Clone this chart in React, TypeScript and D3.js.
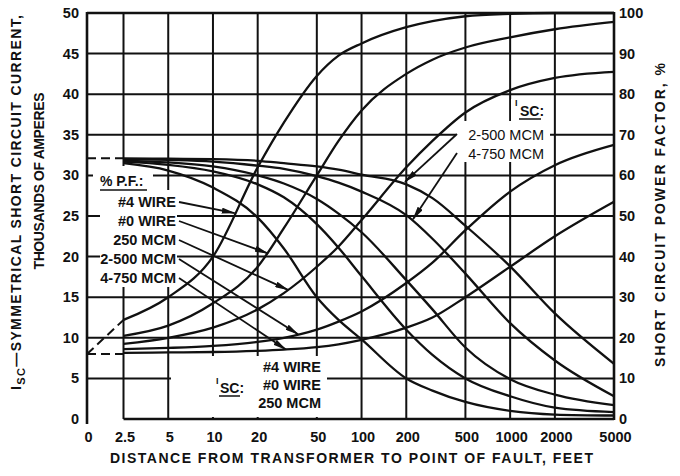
import React, { useEffect, useRef } from 'react';
import * as d3 from 'd3';

const WIDTH = 680;
const HEIGHT = 476;
const INK = '#111';
const FONT = '"Liberation Sans", Arial, Helvetica, sans-serif';

const DISTANCES = [2.5, 5, 10, 20, 30, 50, 70, 100, 200, 300, 500, 1000, 2000, 5000];

// symmetrical short circuit current, thousands of amperes
const ISC_4_WIRE = [31.5, 30.6, 28.5, 24.8, 21.0, 15.0, 12.2, 9.8, 5.0, 3.5, 2.1, 1.0, 0.55, 0.43];
const ISC_0_WIRE = [31.7, 31.3, 30.5, 28.9, 27.3, 24.0, 21.1, 17.6, 11.0, 7.9, 5.0, 2.8, 1.4, 0.85];
const ISC_250_MCM = [31.8, 31.6, 31.1, 30.0, 29.0, 27.1, 25.3, 23.0, 17.1, 13.5, 8.8, 4.9, 3.0, 1.7];
const ISC_2_500_MCM = [32.0, 31.9, 31.7, 31.2, 30.8, 29.9, 29.1, 28.0, 25.1, 22.2, 17.9, 11.8, 7.2, 2.8];
const ISC_4_750_MCM = [32.1, 32.05, 32.0, 31.8, 31.5, 31.1, 30.7, 30.1, 28.9, 27.2, 23.8, 18.8, 13.0, 6.8];

// short circuit power factor, %
const PF_4_WIRE = [24.4, 30, 40, 62, 73, 84.5, 89.5, 92.5, 96.5, 98, 99.2, 99.8, 100, 100];
const PF_0_WIRE = [20.5, 23, 28.5, 37.5, 47, 60, 68.5, 76, 85, 88.5, 91.5, 94, 96, 97.8];
const PF_250_MCM = [18.5, 20, 22.5, 27, 31, 37.5, 42.5, 49, 62, 68.5, 75.5, 81, 84, 85.5];
const PF_2_500_MCM = [17.2, 17.5, 18, 19, 20, 22, 24, 26.5, 33.5, 38.5, 46.5, 56, 62.5, 67.5];
const PF_4_750_MCM = [16.3, 16.4, 16.5, 16.8, 17.1, 17.7, 18.4, 19.5, 22.5, 25, 30, 37.5, 45, 53.5];

// values at the transformer terminals (distance 0), drawn dashed
const ISC_AT_ZERO = 32.1;
const PF_AT_ZERO = 16;

const X_TICKS = [0, 2.5, 5, 10, 20, 50, 100, 200, 500, 1000, 2000, 5000];
const X_TICK_LABELS = ['0', '2.5', '5', '10', '20', '50', '100', '200', '500', '1000', '2000', '5000'];
const ISC_TICKS = [0, 5, 10, 15, 20, 25, 30, 35, 40, 45, 50];
const PF_TICKS = [0, 10, 20, 30, 40, 50, 60, 70, 80, 90, 100];

const PF_LABELS = ['#4 WIRE', '#0 WIRE', '250 MCM', '2-500 MCM', '4-750 MCM'];
// where each "% P.F." arrow touches its curve (feet, %)
const PF_ARROW_FEET = [14, 23.4, 32, 37.4, 31];
const PF_ARROW_PF = [50.7, 40.8, 31.8, 20.9, 17.1];

const ISC_RIGHT_LABELS = ['2-500 MCM', '4-750 MCM'];
const ISC_ARROW_FEET = [196, 222];
const ISC_ARROW_ISC = [29.2, 24.6];

const ISC_BOTTOM_LABELS = ['#4 WIRE', '#0 WIRE', '250 MCM'];

// the "0" distance is put on the log axis at this many feet
const ZERO_FEET_POS = 1.42;

export default function App() {
  const svgRef = useRef<SVGSVGElement>(null);

  useEffect(() => {
    const svg = d3.select(svgRef.current);
    svg.selectAll('*').remove();

    const x = d3.scaleLog().domain([ZERO_FEET_POS, 5000]).range([87, 614]);
    const xd = (d: number) => x(d === 0 ? ZERO_FEET_POS : d);
    const yI = d3.scaleLinear().domain([0, 50]).range([419, 13]);
    const yP = d3.scaleLinear().domain([0, 100]).range([419, 13]);

    const defs = svg.append('defs');
    defs.append('marker')
      .attr('id', 'arrowhead')
      .attr('viewBox', '0 0 14 6')
      .attr('refX', 13)
      .attr('refY', 3)
      .attr('markerWidth', 14)
      .attr('markerHeight', 6)
      .attr('markerUnits', 'userSpaceOnUse')
      .attr('orient', 'auto')
      .append('path')
      .attr('d', 'M0,0 L14,3 L0,6 Z')
      .attr('fill', INK);

    const g = svg.append('g');

    // grid
    const grid = g.append('g').attr('stroke', INK).attr('stroke-width', 2);
    grid.selectAll('.hgrid')
      .data(ISC_TICKS.filter(v => v > 0 && v < 50))
      .enter()
      .append('line')
      .attr('x1', xd(0)).attr('x2', x(5000))
      .attr('y1', d => yI(d)).attr('y2', d => yI(d));
    grid.selectAll('.vgrid')
      .data(X_TICKS.filter(d => d > 0 && d < 5000))
      .enter()
      .append('line')
      .attr('x1', d => xd(d)).attr('x2', d => xd(d))
      .attr('y1', yI(50)).attr('y2', yI(0));
    // bottom line starts at 2.5 ft on the original
    grid.append('line')
      .attr('x1', x(2.5)).attr('x2', x(5000))
      .attr('y1', yI(0)).attr('y2', yI(0))
      .attr('stroke-width', 2.4);

    // white patches behind the note blocks
    const patches = [
      [93, 166, 60, 25],
      [100, 190, 77, 97],
      [456, 121, 94, 41],
      [511, 99, 38, 22],
      [171, 356, 156, 61],
    ];
    g.selectAll('.patch')
      .data(patches)
      .enter()
      .append('rect')
      .attr('x', d => d[0]).attr('y', d => d[1])
      .attr('width', d => d[2]).attr('height', d => d[3])
      .attr('fill', '#fff');

    // frame
    const frame = g.append('g').attr('stroke', INK).attr('stroke-width', 2.6).attr('fill', 'none');
    frame.append('line').attr('x1', xd(0)).attr('x2', x(5000)).attr('y1', yI(50)).attr('y2', yI(50));
    frame.append('line').attr('x1', xd(0)).attr('x2', xd(0)).attr('y1', yI(50) - 1).attr('y2', yI(0) + 5);
    frame.append('line').attr('x1', x(5000)).attr('x2', x(5000)).attr('y1', yI(50) - 1).attr('y2', yI(0) + 1);

    // curves
    const iscLine = d3.line<number>()
      .x((d, i) => x(DISTANCES[i]))
      .y(d => yI(d))
      .curve(d3.curveMonotoneX);
    const pfLine = d3.line<number>()
      .x((d, i) => x(DISTANCES[i]))
      .y(d => yP(d))
      .curve(d3.curveMonotoneX);

    const curves = g.append('g')
      .attr('fill', 'none')
      .attr('stroke', INK)
      .attr('stroke-width', 2.3)
      .attr('stroke-linejoin', 'round');

    [ISC_4_WIRE, ISC_0_WIRE, ISC_250_MCM, ISC_2_500_MCM, ISC_4_750_MCM].forEach(s => {
      curves.append('path').attr('d', iscLine(s));
    });
    [PF_4_WIRE, PF_0_WIRE, PF_250_MCM, PF_2_500_MCM, PF_4_750_MCM].forEach(s => {
      curves.append('path').attr('d', pfLine(s));
    });

    // dashed parts from 0 to 2.5 ft
    const dashed = g.append('g')
      .attr('stroke', INK)
      .attr('stroke-width', 2)
      .attr('stroke-dasharray', '9,5');
    dashed.append('line')
      .attr('x1', xd(0)).attr('y1', yI(ISC_AT_ZERO))
      .attr('x2', x(2.5)).attr('y2', yI(ISC_4_750_MCM[0]));
    dashed.append('line')
      .attr('x1', xd(0)).attr('y1', yP(PF_AT_ZERO))
      .attr('x2', x(2.5)).attr('y2', yP(PF_4_WIRE[0]));
    dashed.append('line')
      .attr('x1', xd(0)).attr('y1', yP(PF_AT_ZERO))
      .attr('x2', x(2.5)).attr('y2', yP(PF_AT_ZERO));

    // axis tick labels
    const txt = g.append('g')
      .attr('font-family', FONT)
      .attr('font-weight', 'bold')
      .attr('fill', INK);

    txt.selectAll('.ltick')
      .data(ISC_TICKS)
      .enter()
      .append('text')
      .attr('x', 79)
      .attr('y', d => yI(d) + 5)
      .attr('text-anchor', 'end')
      .attr('font-size', 14.5)
      .text(d => d);

    txt.selectAll('.rtick')
      .data(PF_TICKS)
      .enter()
      .append('text')
      .attr('x', 619)
      .attr('y', d => yP(d) + 5)
      .attr('font-size', 14.5)
      .text(d => d);

    txt.selectAll('.xtick')
      .data(X_TICKS)
      .enter()
      .append('text')
      .attr('x', d => xd(d) + 1.5)
      .attr('y', 442)
      .attr('text-anchor', 'middle')
      .attr('font-size', 14.5)
      .text((d, i) => X_TICK_LABELS[i]);

    // axis titles
    txt.append('text')
      .attr('x', 110)
      .attr('y', 463)
      .attr('font-size', 14)
      .attr('textLength', 483)
      .attr('lengthAdjust', 'spacing')
      .text('DISTANCE FROM TRANSFORMER TO POINT OF FAULT, FEET');

    const leftTitle = txt.append('text')
      .attr('transform', 'translate(21,390) rotate(-90)')
      .attr('font-size', 14)
      .attr('textLength', 375)
      .attr('lengthAdjust', 'spacing');
    leftTitle.append('tspan').text('I');
    leftTitle.append('tspan').attr('dy', 4).attr('font-size', 11).text('SC');
    leftTitle.append('tspan').attr('dy', -4).text('\u2014SYMMETRICAL SHORT CIRCUIT CURRENT,');

    txt.append('text')
      .attr('transform', 'translate(44,181) rotate(-90)')
      .attr('text-anchor', 'middle')
      .attr('font-size', 14)
      .attr('textLength', 177)
      .attr('lengthAdjust', 'spacing')
      .text('THOUSANDS OF AMPERES');

    txt.append('text')
      .attr('transform', 'translate(665,215) rotate(-90)')
      .attr('text-anchor', 'middle')
      .attr('font-size', 14)
      .attr('textLength', 304)
      .attr('lengthAdjust', 'spacing')
      .text('SHORT CIRCUIT POWER FACTOR, %');

    // "% P.F." note on the left
    txt.append('text').attr('x', 100).attr('y', 186).attr('font-size', 14).text('% P.F.:');
    g.append('line')
      .attr('x1', 100).attr('x2', 147).attr('y1', 190).attr('y2', 190)
      .attr('stroke', INK).attr('stroke-width', 1.5);

    PF_LABELS.forEach((label, i) => {
      const by = 207 + i * 19;
      txt.append('text')
        .attr('x', 176)
        .attr('y', by)
        .attr('text-anchor', 'end')
        .attr('font-size', 14.5)
        .text(label);
      g.append('line')
        .attr('x1', 179).attr('y1', by - 5)
        .attr('x2', x(PF_ARROW_FEET[i])).attr('y2', yP(PF_ARROW_PF[i]))
        .attr('stroke', INK).attr('stroke-width', 1.8)
        .attr('marker-end', 'url(#arrowhead)');
    });

    // Isc note on the right
    txt.append('text').attr('x', 515).attr('y', 106).attr('font-size', 9).text('I');
    txt.append('text').attr('x', 520).attr('y', 116).attr('font-size', 14).text('SC:');
    g.append('line')
      .attr('x1', 519).attr('x2', 541).attr('y1', 119).attr('y2', 119)
      .attr('stroke', INK).attr('stroke-width', 1.5);

    ISC_RIGHT_LABELS.forEach((label, i) => {
      const by = 140 + i * 19;
      txt.append('text')
        .attr('x', 544)
        .attr('y', by)
        .attr('text-anchor', 'end')
        .attr('font-size', 14.5)
        .attr('font-weight', 'normal')
        .text(label);
      g.append('line')
        .attr('x1', 457).attr('y1', by - 6)
        .attr('x2', x(ISC_ARROW_FEET[i])).attr('y2', yI(ISC_ARROW_ISC[i]))
        .attr('stroke', INK).attr('stroke-width', 1.8)
        .attr('marker-end', 'url(#arrowhead)');
    });

    // Isc note at the bottom
    txt.append('text').attr('x', 216).attr('y', 384).attr('font-size', 9).text('I');
    txt.append('text').attr('x', 220).attr('y', 393).attr('font-size', 14).text('SC:');
    g.append('line')
      .attr('x1', 219).attr('x2', 240).attr('y1', 396).attr('y2', 396)
      .attr('stroke', INK).attr('stroke-width', 1.5);
    ISC_BOTTOM_LABELS.forEach((label, i) => {
      txt.append('text')
        .attr('x', 321)
        .attr('y', 372 + i * 18)
        .attr('text-anchor', 'end')
        .attr('font-size', 14.5)
        .text(label);
    });
  }, []);

  return (
    <svg
      ref={svgRef}
      width={WIDTH}
      height={HEIGHT}
      style={{ position: 'absolute', left: 0, top: 0, background: '#fff' }}
    />
  );
}
